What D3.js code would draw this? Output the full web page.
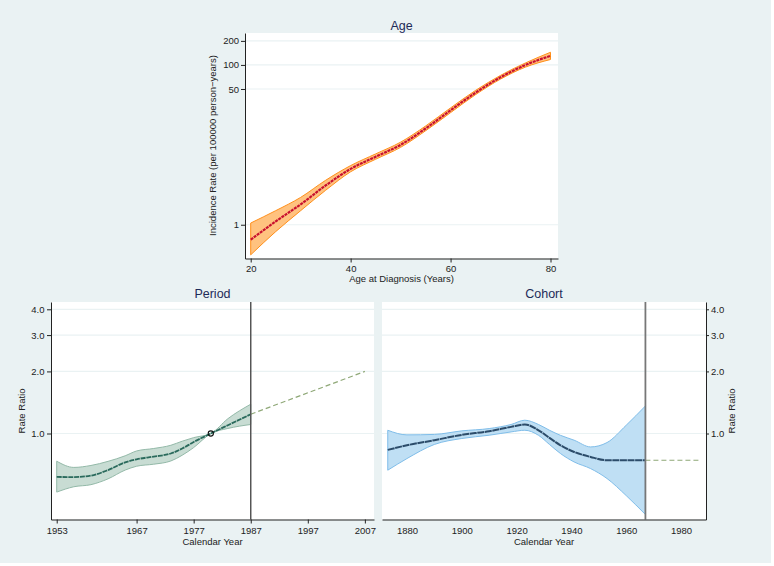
<!DOCTYPE html>
<html>
<head>
<meta charset="utf-8">
<script src="https://cdn.jsdelivr.net/npm/d3@7"></script>
<style>
  body { margin: 0; background: #fff; }
  svg { display: block; font-family: "Liberation Sans", Arial, sans-serif; }
  .tick text { fill: #222; font-size: 9.5px; }
  .axis path, .axis line { stroke: #222; }
</style>
</head>
<body>
<script>
// Age effect (incidence per 100000 person-years)
const ageX = [20, 25, 30, 35, 40, 45, 50, 55, 60, 65, 70, 75, 80];
const ageRate = [0.65, 1.1, 1.8, 3.1, 5.0, 7.1, 10, 16, 27, 45, 70, 100, 130];
const ageUpper = [1.05, 1.5, 2.2, 3.6, 5.5, 7.7, 10.8, 17.2, 29, 48, 74, 106, 144];
const ageLower = [0.42, 0.82, 1.5, 2.7, 4.6, 6.6, 9.3, 15, 25.3, 42.5, 66.5, 94, 117];
const ageTicksX = [20, 40, 60, 80];
const ageTicksY = [1, 50, 100, 200];

// Period effect (rate ratio, reference 1980)
const periodX = [1953, 1956, 1959, 1962, 1965, 1967, 1970, 1973, 1975, 1977, 1980, 1983, 1987];
const periodRR = [0.616, 0.615, 0.625, 0.665, 0.725, 0.75, 0.773, 0.80, 0.846, 0.91, 1.0, 1.097, 1.24];
const periodUpper = [0.734, 0.685, 0.70, 0.733, 0.78, 0.823, 0.846, 0.877, 0.918, 0.955, 1.0, 1.18, 1.387];
const periodLower = [0.52, 0.552, 0.565, 0.603, 0.665, 0.694, 0.71, 0.736, 0.785, 0.855, 1.0, 1.058, 1.106];
const periodExtX = [1987, 2007];
const periodExtRR = [1.24, 2.0];
const periodRef = [1980, 1.0];
const periodTicksX = [1953, 1967, 1977, 1987, 1997, 2007];

// Cohort effect (rate ratio)
const cohortX = [1873, 1880, 1890, 1900, 1910, 1918, 1923, 1928, 1932, 1936, 1941, 1947, 1953, 1960, 1967];
const cohortRR = [0.833, 0.877, 0.928, 0.985, 1.026, 1.077, 1.106, 1.037, 0.952, 0.877, 0.814, 0.77, 0.742, 0.742, 0.742];
const cohortUpper = [1.037, 0.985, 0.99, 1.03, 1.057, 1.106, 1.16, 1.106, 1.037, 0.98, 0.928, 0.861, 0.904, 1.097, 1.36];
const cohortLower = [0.664, 0.756, 0.885, 0.946, 0.981, 1.018, 1.037, 0.98, 0.885, 0.80, 0.728, 0.676, 0.605, 0.50, 0.405];
const cohortExtX = [1967, 1987];
const cohortExtRR = [0.742, 0.742];
const cohortTicksX = [1880, 1900, 1920, 1940, 1960, 1980];

const rrTicks = [1, 2, 3, 4];
const lastPeriod = 1987;
const lastCohort = 1967;

const svg = d3.select('body').append('svg')
  .attr('width', 774)
  .attr('height', 566);

svg.append('rect')
  .attr('width', 771)
  .attr('height', 563)
  .attr('fill', '#eaf2f3');

function zip(xs, ys) {
  return xs.map((x, i) => [x, ys[i]]);
}

// draws a confidence band and the estimate line on top
function drawBand(g, x, y, xs, est, lo, hi, st) {
  let area = d3.area()
    .x((d, i) => x(xs[i]))
    .y0((d, i) => y(lo[i]))
    .y1((d, i) => y(hi[i]))
    .curve(d3.curveMonotoneX);
  g.append('path')
    .datum(xs)
    .attr('d', area)
    .attr('fill', st.fill)
    .attr('stroke', st.edge)
    .attr('stroke-width', 1);
  g.append('path')
    .datum(zip(xs, est))
    .attr('d', d3.line().x(d => x(d[0])).y(d => y(d[1])).curve(d3.curveMonotoneX))
    .attr('fill', 'none')
    .attr('stroke', st.line)
    .attr('stroke-width', st.width)
    .attr('stroke-dasharray', st.dash);
}

function gridLines(g, y, values, x0, x1) {
  g.selectAll(null)
    .data(values)
    .enter()
    .append('line')
    .attr('x1', x0).attr('x2', x1)
    .attr('y1', d => y(d)).attr('y2', d => y(d))
    .attr('stroke', '#eaf2f3')
    .attr('stroke-width', 1.2);
}

function title(txt, cx, cy) {
  svg.append('text')
    .attr('x', cx).attr('y', cy)
    .attr('text-anchor', 'middle')
    .attr('font-size', 12.5)
    .attr('fill', '#1e2b58')
    .text(txt);
}

function axisLabel(txt, cx, cy, rot) {
  svg.append('text')
    .attr('transform', `translate(${cx},${cy}) rotate(${rot || 0})`)
    .attr('text-anchor', 'middle')
    .attr('font-size', 9.5)
    .attr('fill', '#222')
    .text(txt);
}

// ---- Age panel
let ax = d3.scaleLinear().domain([18.86, 81.5]).range([245, 558]);
let ay = d3.scaleLog().domain([0.378, 251]).range([258.5, 33]);

svg.append('rect').attr('x', 245).attr('y', 33).attr('width', 313).attr('height', 225.5).attr('fill', '#fff');
let ageG = svg.append('g');
gridLines(ageG, ay, ageTicksY, 245, 558);
drawBand(ageG, ax, ay, ageX, ageRate, ageLower, ageUpper,
  { fill: '#ffc27f', edge: '#ff8f1a', line: '#c8102e', width: 2.2, dash: '3,0.8' });

svg.append('g').attr('class', 'axis')
  .attr('transform', 'translate(0,258.5)')
  .call(d3.axisBottom(ax).tickValues(ageTicksX).tickSize(4).tickSizeOuter(0).tickPadding(3));
svg.append('g').attr('class', 'axis')
  .attr('transform', 'translate(245,0)')
  .call(d3.axisLeft(ay).tickValues(ageTicksY).tickFormat(d3.format('d')).tickSize(4).tickSizeOuter(0).tickPadding(2));

title('Age', 401.5, 29.5);
axisLabel('Age at Diagnosis (Years)', 401.5, 281.5);
axisLabel('Incidence Rate (per 100000 person\u2212years)', 216, 145.5, -90);

// ---- Period panel
let px = d3.scaleLinear().domain([1952.0, 2008.6]).range([51, 374]);
let py = d3.scaleLog().domain([0.383, 4.34]).range([519.5, 302]);

svg.append('rect').attr('x', 51).attr('y', 302).attr('width', 323).attr('height', 217.5).attr('fill', '#fff');
let perG = svg.append('g');
gridLines(perG, py, rrTicks, 51, 374);
drawBand(perG, px, py, periodX, periodRR, periodLower, periodUpper,
  { fill: '#c8dcd3', edge: '#93b9a8', line: '#2a6a5c', width: 1.8, dash: '5,0.8' });
perG.append('path')
  .datum(zip(periodExtX, periodExtRR))
  .attr('d', d3.line().x(d => px(d[0])).y(d => py(d[1])))
  .attr('fill', 'none')
  .attr('stroke', '#8fa877')
  .attr('stroke-width', 1.2)
  .attr('stroke-dasharray', '5,3');
perG.append('line')
  .attr('x1', px(lastPeriod)).attr('x2', px(lastPeriod))
  .attr('y1', 302).attr('y2', 519.5)
  .attr('stroke', '#555').attr('stroke-width', 1.5);
perG.append('circle')
  .attr('cx', px(periodRef[0])).attr('cy', py(periodRef[1]))
  .attr('r', 2.6)
  .attr('fill', 'none')
  .attr('stroke', '#111')
  .attr('stroke-width', 1.1);

svg.append('g').attr('class', 'axis')
  .attr('transform', 'translate(0,519.5)')
  .call(d3.axisBottom(px).tickValues(periodTicksX).tickFormat(d3.format('d')).tickSize(4).tickSizeOuter(0).tickPadding(3.5));
svg.append('g').attr('class', 'axis')
  .attr('transform', 'translate(51,0)')
  .call(d3.axisLeft(py).tickValues(rrTicks).tickFormat(d3.format('.1f')).tickSize(4).tickSizeOuter(0).tickPadding(2.5));

title('Period', 212.5, 297.5);
axisLabel('Calendar Year', 212.5, 544.5);
axisLabel('Rate Ratio', 25, 411, -90);

// ---- Cohort panel
let cx = d3.scaleLinear().domain([1870.9, 1989.1]).range([382, 706]);
let cy = d3.scaleLog().domain([0.383, 4.34]).range([519.5, 302]);

svg.append('rect').attr('x', 382).attr('y', 302).attr('width', 324).attr('height', 217.5).attr('fill', '#fff');
let cohG = svg.append('g');
gridLines(cohG, cy, rrTicks, 382, 706);
drawBand(cohG, cx, cy, cohortX, cohortRR, cohortLower, cohortUpper,
  { fill: '#bfdff4', edge: '#7fbde9', line: '#2c4c6a', width: 2, dash: '7,0.6' });
cohG.append('path')
  .datum(zip(cohortExtX, cohortExtRR))
  .attr('d', d3.line().x(d => cx(d[0])).y(d => cy(d[1])))
  .attr('fill', 'none')
  .attr('stroke', '#8fa877')
  .attr('stroke-width', 1.2)
  .attr('stroke-dasharray', '5,3');
cohG.append('line')
  .attr('x1', cx(lastCohort)).attr('x2', cx(lastCohort))
  .attr('y1', 302).attr('y2', 519.5)
  .attr('stroke', '#777').attr('stroke-width', 1.8);

svg.append('g').attr('class', 'axis')
  .attr('transform', 'translate(0,519.5)')
  .call(d3.axisBottom(cx).tickValues(cohortTicksX).tickFormat(d3.format('d')).tickSize(0).tickSizeOuter(0).tickPadding(7.5));
svg.append('g').attr('class', 'axis')
  .attr('transform', 'translate(706,0)')
  .call(d3.axisRight(cy).tickValues(rrTicks).tickFormat(d3.format('.1f')).tickSize(3).tickSizeOuter(0).tickPadding(2));

title('Cohort', 544, 297.5);
axisLabel('Calendar Year', 544, 544.5);
axisLabel('Rate Ratio', 735, 411, -90);
</script>
</body>
</html>
